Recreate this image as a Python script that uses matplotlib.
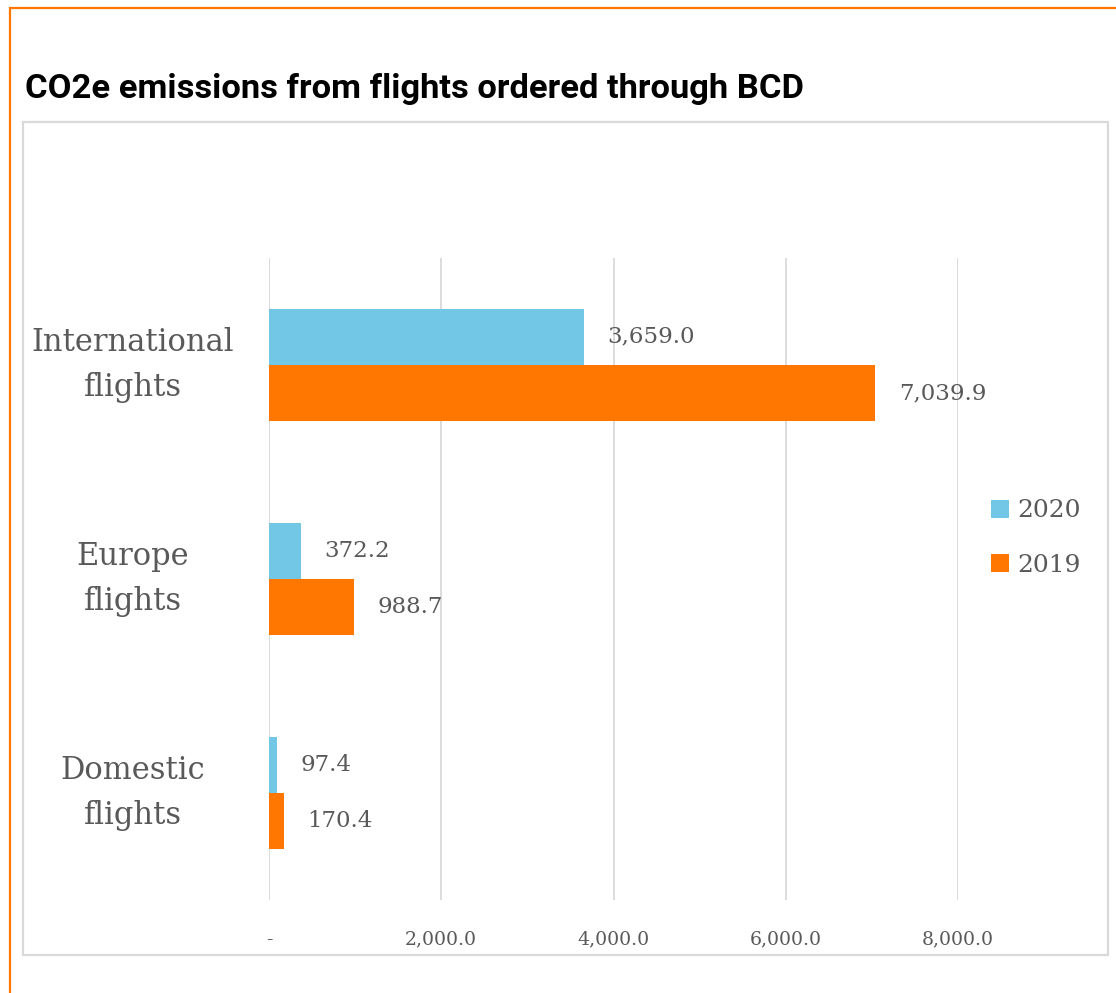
import matplotlib
matplotlib.use("Agg")

import numpy as np
import matplotlib.pyplot as plt
from matplotlib.patches import Rectangle
from matplotlib.ticker import FuncFormatter

# データ
categories = ["International\nflights", "Europe\nflights", "Domestic\nflights"]
years = ["2020", "2019"]
values_2020 = [3659.0, 372.2, 97.4]
values_2019 = [7039.9, 988.7, 170.4]
xticks = [0, 2000, 4000, 6000, 8000]

# 色
c2020 = "#72C6E6"
c2019 = "#FF7700"
gray_text = "#595959"
grid_col = "#D9D9D9"

W, H = 1116, 993
fig = plt.figure(figsize=(W / 100, H / 100), dpi=100)

# 外枠（オレンジ、右と下は画面外）
fig.patches.append(Rectangle((9.5 / W, -1.0), 2.0, 2.0 - 7.5 / H, transform=fig.transFigure,
                             fill=False, edgecolor=c2019, linewidth=1.6))
# グラフ枠（グレー）
fig.patches.append(Rectangle((23 / W, 1 - 955 / H), (1108 - 23) / W, (955 - 122) / H,
                             transform=fig.transFigure, fill=False,
                             edgecolor=grid_col, linewidth=1.6))

# タイトル
fig.text(25 / W, 1 - 98 / H, "CO2e emissions from flights ordered through BCD",
         fontfamily="Roboto", fontweight="bold", fontsize=24.8, color="black",
         va="baseline", ha="left")

# プロット領域
ax = fig.add_axes([269 / W, 1 - 900 / H, (958 - 269) / W, (900 - 258) / H])

y = np.arange(len(categories))[::-1]  # 上から順に
h = 0.263
b1 = ax.barh(y + h / 2, values_2020, height=h, color=c2020, label=years[0])
b2 = ax.barh(y - h / 2, values_2019, height=h, color=c2019, label=years[1])

for bars in (b1, b2):
    for rect in bars:
        v = rect.get_width()
        ax.annotate(f"{v:,.1f}", (v, rect.get_y() + rect.get_height() / 2),
                    xytext=(17, 0), textcoords="offset points",
                    ha="left", va="center", fontfamily="DejaVu Serif",
                    fontsize=16.5, color=gray_text)

ax.set_xlim(0, 8000)
ax.set_ylim(-0.5, 2.5)
ax.set_xticks(xticks)
ax.xaxis.set_major_formatter(FuncFormatter(lambda v, p: "-" if v == 0 else f"{v:,.1f}"))
ax.set_yticks(y)
ax.set_yticklabels(categories, fontfamily="DejaVu Serif", fontsize=22,
                   color=gray_text, ha="center", va="center", linespacing=1.55)
ax.tick_params(axis="y", length=0, pad=98)
ax.tick_params(axis="x", length=0, pad=22, labelsize=13.6, labelcolor=gray_text)
for lab in ax.get_xticklabels():
    lab.set_fontfamily("DejaVu Serif")

ax.grid(axis="x", color=grid_col, linewidth=1.3)
ax.set_axisbelow(True)
for s in ax.spines.values():
    s.set_visible(False)

leg = fig.legend(handles=[b1, b2], labels=years, loc="center left",
                 bbox_to_anchor=(991 / W, 1 - 538 / H), frameon=False,
                 prop={"family": "DejaVu Serif", "size": 18},
                 handlelength=0.72, handleheight=0.72, handletextpad=0.35,
                 labelspacing=1.25, borderpad=0, borderaxespad=0,
                 labelcolor=gray_text)

fig.savefig("out.png", dpi=100)
